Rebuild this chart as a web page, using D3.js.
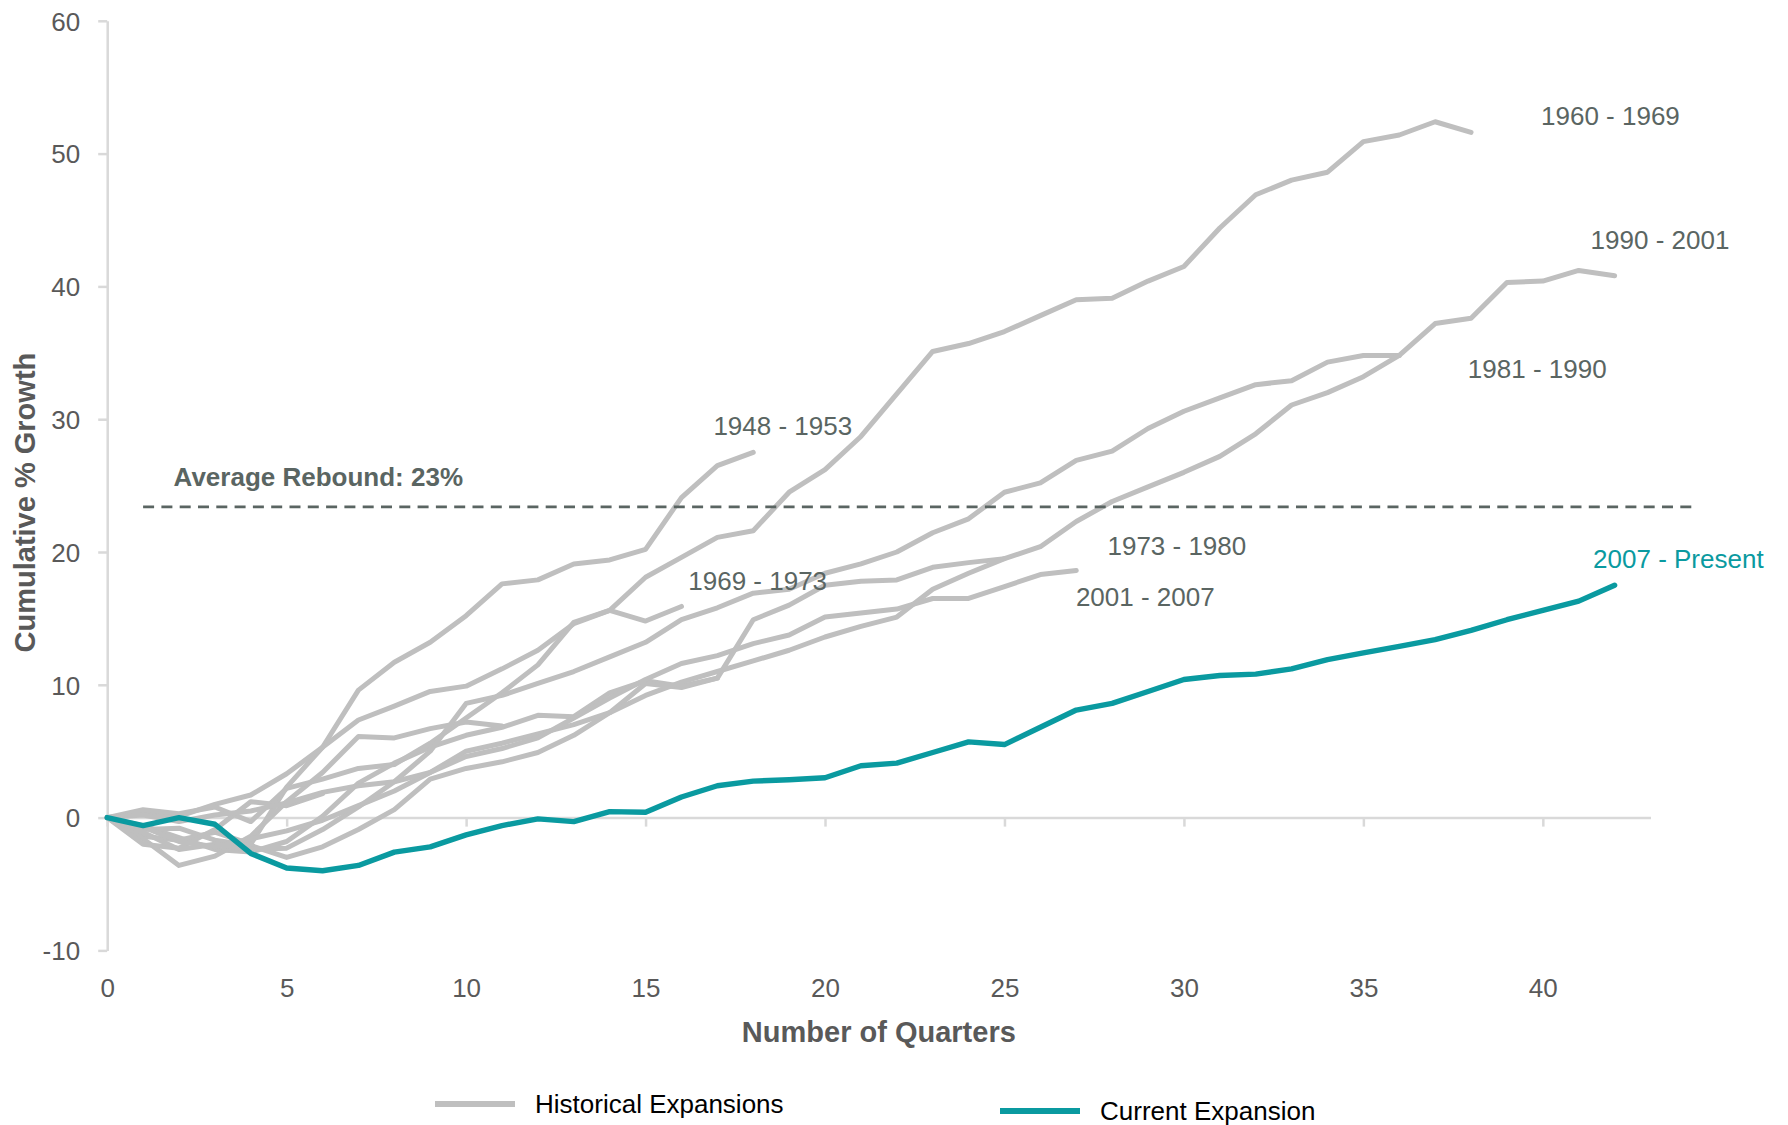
<!DOCTYPE html>
<html>
<head>
<meta charset="utf-8">
<script src="https://cdn.jsdelivr.net/npm/d3@7"></script>
<style>
  html, body { margin: 0; background: #ffffff; }
  svg { display: block; }
  text { font-family: "Liberation Sans", Arial, Helvetica, sans-serif; }
</style>
</head>
<body>
<svg id="chart" width="1788" height="1125"></svg>
<script>
// Cumulative % growth of real output, by quarter since the prior peak.
const quarterTicks = [0, 5, 10, 15, 20, 25, 30, 35, 40];
const growthTicks = [-10, 0, 10, 20, 30, 40, 50, 60];

const exp1948_1953 = [0, -1.4, -1.7, -1.1, -2.0, 2.3, 5.3, 9.6, 11.7, 13.2, 15.2, 17.6, 17.9, 19.1, 19.4, 20.2, 24.1, 26.5, 27.5];
const exp1953_1957 = [0, -0.6, -1.5, -2.4, -2.6, -1.8, 0.1, 2.6, 4.1, 5.3, 6.2, 6.8, 7.7, 7.6, 9.4, 10.3, 9.9, 10.5];
const exp1957_1960 = [0, -1.6, -3.6, -2.9, -1.4, 1.2, 3.4, 6.1, 6.0, 6.7, 7.2, 6.9];
const exp1960_1969 = [0, 0.4, 0.1, 1.0, 1.7, 3.3, 5.3, 7.35, 8.4, 9.5, 9.9, 11.2, 12.6, 14.6, 15.6, 18.1, 19.6, 21.1, 21.6, 24.5, 26.2, 28.7, 31.9, 35.1, 35.7, 36.6, 37.8, 39.0, 39.1, 40.4, 41.5, 44.4, 46.9, 48.0, 48.6, 50.9, 51.4, 52.4, 51.6];
const exp1969_1973 = [0, 0.6, 0.3, 0.8, -0.3, 2.2, 2.9, 3.7, 4.0, 5.6, 7.5, 9.4, 11.5, 14.7, 15.6, 14.8, 15.9];
const exp1973_1980 = [0, -0.9, -0.8, -1.7, -2.1, -3.0, -2.2, -0.9, 0.6, 2.9, 3.7, 4.2, 4.9, 6.2, 7.9, 10.1, 9.8, 10.5, 14.9, 16.0, 17.5, 17.8, 17.9, 18.85, 19.2, 19.5];
const exp1980_1981 = [0, -2.0, -2.3, -0.9, 1.2, 0.9, 1.8];
const exp1981_1990 = [0, -1.1, -2.4, -2.0, -2.4, -2.3, -0.9, 0.8, 2.7, 5.0, 8.6, 9.2, 10.1, 11.0, 12.1, 13.2, 14.9, 15.8, 16.9, 17.2, 18.4, 19.1, 20.0, 21.45, 22.5, 24.5, 25.2, 26.9, 27.6, 29.3, 30.6, 31.6, 32.6, 32.9, 34.3, 34.8, 34.8];
const exp1990_2001 = [0, -0.7, -1.8, -2.2, -1.6, -1.0, -0.2, 0.9, 2.0, 3.4, 5.0, 5.6, 6.3, 7.0, 7.9, 9.2, 10.2, 11.0, 11.8, 12.6, 13.6, 14.4, 15.1, 17.2, 18.4, 19.5, 20.4, 22.3, 23.8, 24.9, 26.0, 27.2, 28.9, 31.07, 32.0, 33.2, 34.8, 37.2, 37.6, 40.3, 40.4, 41.2, 40.8];
const exp2001_2007 = [0, 0.2, -0.3, 0.2, 0.5, 1.1, 1.9, 2.4, 2.7, 3.4, 4.6, 5.2, 6.0, 7.5, 9.0, 10.4, 11.6, 12.2, 13.1, 13.75, 15.1, 15.4, 15.7, 16.5, 16.5, 17.4, 18.3, 18.6];
const exp2007_present = [0, -0.6, 0, -0.5, -2.7, -3.8, -4.0, -3.6, -2.6, -2.2, -1.3, -0.6, -0.1, -0.3, 0.45, 0.4, 1.55, 2.4, 2.75, 2.85, 3.0, 3.9, 4.1, 4.9, 5.7, 5.5, 6.8, 8.1, 8.6, 9.5, 10.4, 10.7, 10.8, 11.2, 11.9, 12.4, 12.9, 13.4, 14.1, 14.9, 15.6, 16.3, 17.5];

const historical = [exp1948_1953, exp1953_1957, exp1957_1960, exp1960_1969, exp1969_1973,
                    exp1973_1980, exp1980_1981, exp1981_1990, exp1990_2001, exp2001_2007];

// Average cumulative rebound across the historical expansions (%).
const averageRebound = 23.4;
const averageSpan = [1, 44.2];

// Period labels, anchored in data units (quarter, % growth).
const periodLabels = [
  { text: "1948 - 1953", q: 16.89, v: 29.49, current: false },
  { text: "1969 - 1973", q: 16.19, v: 17.82, current: false },
  { text: "1960 - 1969", q: 39.95, v: 52.83, current: false },
  { text: "1990 - 2001", q: 41.33, v: 43.49, current: false },
  { text: "1981 - 1990", q: 37.91, v: 33.83, current: false },
  { text: "1973 - 1980", q: 27.87, v: 20.45, current: false },
  { text: "2001 - 2007", q: 26.99, v: 16.63, current: false },
  { text: "2007 - Present", q: 41.40, v: 19.53, current: true }
];

const legendItems = ["Historical Expansions", "Current Expansion"];

const GRAY = "#bfbfbf";
const TEAL = "#0a9aa0";
const LABEL = "#5a6562";
const AXIS = "#d9d9d9";
const TICKTEXT = "#595959";

const svg = d3.select("#chart");
svg.append("rect").attr("width", 1788).attr("height", 1125).attr("fill", "#ffffff");

const x = d3.scaleLinear().domain([0, 43]).range([107.2, 1650.5]);
const y = d3.scaleLinear().domain([-10, 60]).range([950.4, 20.8]);

// Axes (plain hyphen for negatives)
const plain = d => String(d);
const yAxis = svg.append("g")
  .attr("transform", `translate(${x(0)},0)`)
  .call(d3.axisLeft(y).tickValues(growthTicks).tickFormat(plain)
          .tickSize(9).tickSizeOuter(0).tickPadding(18));
const xAxis = svg.append("g")
  .attr("transform", `translate(0,${y(0)})`)
  .call(d3.axisBottom(x).tickValues(quarterTicks).tickFormat(plain)
          .tickSize(9).tickSizeOuter(0));

[yAxis, xAxis].forEach(g => {
  g.select(".domain").attr("stroke", AXIS).attr("stroke-width", 2.5);
  g.selectAll(".tick line").attr("stroke", AXIS).attr("stroke-width", 2.5);
  g.selectAll(".tick text")
    .attr("fill", TICKTEXT)
    .style("font-size", "26px")
    .style("font-family", '"Liberation Sans", Arial, sans-serif');
});
// Quarter labels sit below the plot floor rather than at the zero line.
xAxis.selectAll(".tick text")
  .attr("y", y(-10) - y(0) + 37.6)
  .attr("dy", "0.36em");
yAxis.selectAll(".tick text").attr("dy", "0.36em");

// Axis titles
svg.append("text")
  .attr("transform", `translate(25,${(y(60) + y(-10)) / 2 + 17}) rotate(-90)`)
  .attr("text-anchor", "middle")
  .attr("dy", "0.36em")
  .attr("fill", TICKTEXT)
  .style("font-size", "29px")
  .style("font-weight", "bold")
  .text("Cumulative % Growth");

svg.append("text")
  .attr("x", (x(0) + x(43)) / 2)
  .attr("y", 1032)
  .attr("text-anchor", "middle")
  .attr("dy", "0.36em")
  .attr("fill", TICKTEXT)
  .style("font-size", "29px")
  .style("font-weight", "bold")
  .text("Number of Quarters");

const line = d3.line()
  .x((d, i) => x(i))
  .y(d => y(d));

// Historical expansions
svg.append("g")
  .selectAll("path")
  .data(historical)
  .join("path")
  .attr("d", line)
  .attr("fill", "none")
  .attr("stroke", GRAY)
  .attr("stroke-width", 5)
  .attr("stroke-linejoin", "round")
  .attr("stroke-linecap", "round");

// Average rebound reference line
svg.append("line")
  .attr("x1", x(averageSpan[0]))
  .attr("x2", x(averageSpan[1]))
  .attr("y1", y(averageRebound))
  .attr("y2", y(averageRebound))
  .attr("stroke", LABEL)
  .attr("stroke-width", 2.7)
  .attr("stroke-dasharray", "11,7.3");

svg.append("text")
  .attr("x", x(1.85))
  .attr("y", y(25.67))
  .attr("dy", "0.36em")
  .attr("fill", LABEL)
  .style("font-size", "26px")
  .style("font-weight", "bold")
  .text(`Average Rebound: ${d3.format(".0f")(averageRebound)}%`);

// Current expansion
svg.append("path")
  .datum(exp2007_present)
  .attr("d", line)
  .attr("fill", "none")
  .attr("stroke", TEAL)
  .attr("stroke-width", 5.4)
  .attr("stroke-linejoin", "round")
  .attr("stroke-linecap", "round");

// Period labels
svg.append("g")
  .selectAll("text")
  .data(periodLabels)
  .join("text")
  .attr("x", d => x(d.q))
  .attr("y", d => y(d.v))
  .attr("dy", "0.36em")
  .attr("fill", d => d.current ? TEAL : LABEL)
  .style("font-size", "26px")
  .text(d => d.text);

// Legend
const legend = svg.append("g");
const legendRows = [
  { label: legendItems[0], color: GRAY, x0: 435, y0: 1104 },
  { label: legendItems[1], color: TEAL, x0: 1000, y0: 1111 }
];
legendRows.forEach(r => {
  legend.append("line")
    .attr("x1", r.x0).attr("x2", r.x0 + 80)
    .attr("y1", r.y0).attr("y2", r.y0)
    .attr("stroke", r.color)
    .attr("stroke-width", 6);
  legend.append("text")
    .attr("x", r.x0 + 100)
    .attr("y", r.y0)
    .attr("dy", "0.36em")
    .attr("fill", "#000000")
    .style("font-size", "26px")
    .text(r.label);
});
</script>
</body>
</html>
